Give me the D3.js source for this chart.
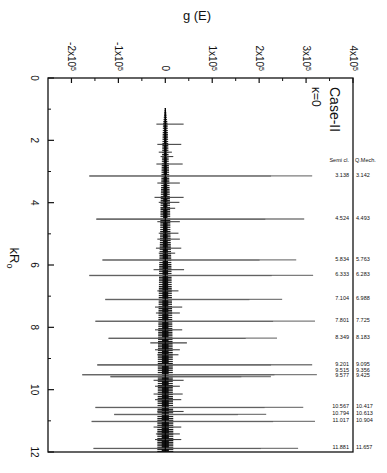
<!DOCTYPE html>
<html>
<head>
<meta charset="utf-8">
<script src="https://cdn.jsdelivr.net/npm/d3@7"></script>
<style>
  body { margin: 0; background: #fff; }
  svg { display: block; }
  text { font-family: "Liberation Sans", Arial, sans-serif; fill: #111; }
</style>
</head>
<body>
<svg id="chart" width="387" height="473"></svg>
<script>
// g(E) values are in units of 1e5
// big spikes, at the semi-classical kR0
const peakK = [3.138, 4.524, 5.834, 6.333, 7.104, 7.801, 8.349, 9.201, 9.515, 9.577, 10.567, 10.794, 11.017, 11.881];
const peakPos = [3.13, 2.96, 2.79, 3.15, 2.49, 3.19, 2.38, 3.13, 3.23, 2.25, 2.94, 2.15, 3.19, 2.83];
const peakNeg = [-1.62, -1.47, -1.34, -1.62, -1.28, -1.49, -1.21, -1.45, -1.77, -1.17, -1.49, -1.09, -1.57, -1.53];

// smaller spikes around the centre
const minorK = [1.48, 2.13, 2.38, 2.52, 2.76, 3.37, 3.83, 3.99, 4.18, 4.61, 4.98, 5.17, 5.46, 5.62, 6.15, 6.83,
  7.35, 7.54, 8.08, 8.5, 8.72, 8.88, 9.7, 9.89, 10.14, 10.32, 10.7, 11.2, 11.42, 11.6];
const minorPos = [0.39, 0.34, 0.14, 0.17, 0.37, 0.31, 0.39, 0.3, 0.21, 0.31, 0.28, 0.31, 0.34, 0.21, 0.4, 0.28,
  0.36, 0.31, 0.36, 0.46, 0.31, 0.28, 0.39, 0.31, 0.37, 0.34, 0.39, 0.34, 0.31, 0.34];
const minorNeg = [-0.19, -0.17, -0.14, -0.1, -0.19, -0.17, -0.23, -0.14, -0.1, -0.17, -0.14, -0.17, -0.2, -0.14, -0.25, -0.17,
  -0.22, -0.2, -0.22, -0.32, -0.22, -0.17, -0.25, -0.22, -0.25, -0.22, -0.17, -0.25, -0.2, -0.22];

// dense oscillation band half-width
const bandK = [0.96, 1.5, 2, 3, 4, 5, 6, 7, 8, 9, 10, 11, 12];
const bandW = [0.01, 0.05, 0.06, 0.08, 0.1, 0.11, 0.13, 0.14, 0.15, 0.16, 0.16, 0.17, 0.17];

const semiCl = ["3.138", "4.524", "5.834", "6.333", "7.104", "7.801", "8.349", "9.201", "9.515", "9.577", "10.567", "10.794", "11.017", "11.881"];
const qMech = ["3.142", "4.493", "5.763", "6.283", "6.988", "7.725", "8.183", "9.095", "9.356", "9.425", "10.417", "10.613", "10.904", "11.657"];

const xTicks = [-2, -1, 0, 1, 2, 3, 4];
const xMinor = [-1.5, -0.5, 0.5, 1.5, 2.5, 3.5];
const yTicks = [0, 2, 4, 6, 8, 10, 12];
const yMinor = [1, 3, 5, 7, 9, 11];

const svg = d3.select("#chart");

const x = d3.scaleLinear().domain([-2.5, 4]).range([48, 353]);
const y = d3.scaleLinear().domain([0, 12]).range([78, 452]);

// striped fill so the band reads as dense oscillations
const pat = svg.append("defs").append("pattern")
  .attr("id", "stripes")
  .attr("patternUnits", "userSpaceOnUse")
  .attr("width", 6).attr("height", 2.2);
pat.append("rect").attr("width", 6).attr("height", 1.3).attr("fill", "#111");

// title on top
svg.append("text")
  .attr("x", 197).attr("y", 20)
  .attr("text-anchor", "middle")
  .attr("font-size", 13)
  .text("g (E)");

const band = bandK.map((k, i) => ({ k: k, w: bandW[i] }));
svg.append("path")
  .datum(band)
  .attr("fill", "url(#stripes)")
  .attr("d", d3.area()
    .y(d => y(d.k))
    .x0(d => x(-d.w))
    .x1(d => x(d.w)));
// solid core of the band
svg.append("path")
  .datum(band)
  .attr("fill", "#111")
  .attr("d", d3.area()
    .y(d => y(d.k))
    .x0(d => x(-d.w * 0.45))
    .x1(d => x(d.w * 0.45)));

// spikes
const spikes = peakK.map((k, i) => ({ k: k, pos: peakPos[i], neg: peakNeg[i], big: true }))
  .concat(minorK.map((k, i) => ({ k: k, pos: minorPos[i], neg: minorNeg[i], big: false })))
  .sort((a, b) => a.k - b.k);

spikes.forEach(function (s) {
  svg.append("line")
    .attr("x1", x(s.neg)).attr("x2", x(s.pos))
    .attr("y1", y(s.k)).attr("y2", y(s.k))
    .attr("stroke", s.big ? "#7c7c7c" : "#444")
    .attr("stroke-width", s.big ? 1.3 : 1.1);
  if (s.big) {
    svg.append("line")
      .attr("x1", x(s.neg)).attr("x2", x(s.pos * 0.72))
      .attr("y1", y(s.k) + 0.3).attr("y2", y(s.k) + 0.3)
      .attr("stroke", "#555")
      .attr("stroke-width", 0.8);
  }
});

// centre spine
svg.append("line")
  .attr("x1", x(0)).attr("x2", x(0))
  .attr("y1", y(bandK[0])).attr("y2", y(12))
  .attr("stroke", "#000").attr("stroke-width", 1.2);

// frame
svg.append("rect")
  .attr("x", 48).attr("y", 78)
  .attr("width", 305).attr("height", 374)
  .attr("fill", "none")
  .attr("stroke", "#111")
  .attr("stroke-width", 1.3);

// top axis ticks (inward)
svg.selectAll(".xt").data(xTicks).join("line")
  .attr("x1", d => x(d)).attr("x2", d => x(d))
  .attr("y1", 78).attr("y2", 83)
  .attr("stroke", "#111").attr("stroke-width", 1.2);
svg.selectAll(".xm").data(xMinor).join("line")
  .attr("x1", d => x(d)).attr("x2", d => x(d))
  .attr("y1", 78).attr("y2", 81)
  .attr("stroke", "#111").attr("stroke-width", 1);

// top tick labels, rotated
xTicks.forEach(function (d) {
  const t = svg.append("text")
    .attr("transform", `translate(${x(d)},71) rotate(90)`)
    .attr("text-anchor", "end")
    .attr("dy", "0.35em")
    .attr("font-size", 10);
  if (d === 0) {
    t.text("0");
  } else {
    t.append("tspan").text(d + "x10");
    t.append("tspan").attr("dy", "-0.45em").attr("font-size", 7).text("5");
  }
});

// left axis ticks
svg.selectAll(".yt").data(yTicks).join("line")
  .attr("x1", 48).attr("x2", 54)
  .attr("y1", d => y(d)).attr("y2", d => y(d))
  .attr("stroke", "#111").attr("stroke-width", 1.2);
svg.selectAll(".ym").data(yMinor).join("line")
  .attr("x1", 48).attr("x2", 51)
  .attr("y1", d => y(d)).attr("y2", d => y(d))
  .attr("stroke", "#111").attr("stroke-width", 1);

yTicks.forEach(function (d) {
  svg.append("text")
    .attr("transform", `translate(34,${y(d)}) rotate(90)`)
    .attr("text-anchor", "middle")
    .attr("dy", "0.35em")
    .attr("font-size", 10)
    .text(d);
});

// kR0 label
const yl = svg.append("text")
  .attr("transform", "translate(10,258) rotate(90)")
  .attr("text-anchor", "middle")
  .attr("font-size", 13);
yl.append("tspan").text("kR");
yl.append("tspan").attr("dy", "0.3em").attr("font-size", 9).text("o");

// case annotation
svg.append("text")
  .attr("transform", "translate(330,87) rotate(90)")
  .attr("font-size", 14)
  .text("Case-II");
svg.append("text")
  .attr("transform", "translate(312,87) rotate(90)")
  .attr("font-size", 12)
  .text("κ=0");

// table of peak positions
svg.append("text").attr("x", 349).attr("y", 162)
  .attr("text-anchor", "end").attr("font-size", 5.5).text("Semi cl.");
svg.append("text").attr("x", 355).attr("y", 162)
  .attr("font-size", 5.5).text("Q.Mech.");

// keep rows apart
const rowY = peakK.map(k => y(k) - 1);
for (let i = rowY.length - 2; i >= 0; i--) {
  if (rowY[i + 1] - rowY[i] < 5.5) rowY[i] = rowY[i + 1] - 5.5;
}

semiCl.forEach(function (s, i) {
  svg.append("text")
    .attr("x", 349).attr("y", rowY[i])
    .attr("dy", "0.35em")
    .attr("text-anchor", "end")
    .attr("font-size", 5.5)
    .text(s);
  svg.append("text")
    .attr("x", 356).attr("y", rowY[i])
    .attr("dy", "0.35em")
    .attr("font-size", 5.5)
    .text(qMech[i]);
});
</script>
</body>
</html>
